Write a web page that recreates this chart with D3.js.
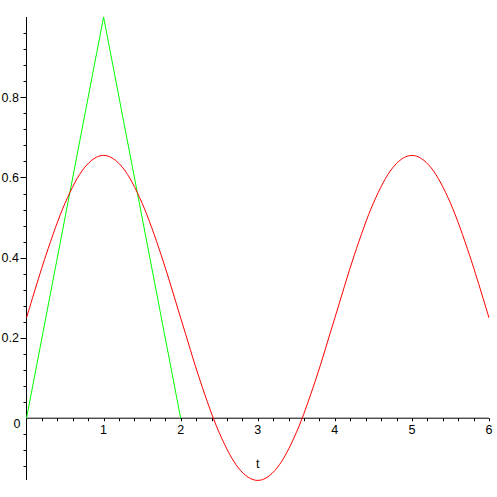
<!DOCTYPE html>
<html><head><meta charset="utf-8">
<script src="https://cdn.jsdelivr.net/npm/d3@7"></script>
<style>body{margin:0;background:#fff}text{font-family:"Liberation Sans",Arial,sans-serif;font-size:12.5px;fill:#000}</style>
</head><body><svg id="c" width="497" height="497"></svg>
<script>
const greenT = [0, 1, 2];
const greenV = [0, 1, 0];
const redT = [0,0.25,0.5,0.75,1,1.25,1.5,1.75,2,2.25,2.5,2.75,3,3.25,3.5,3.75,4,4.25,4.5,4.75,5,5.25,5.5,5.75,6];
const redV = [0.25,0.405,0.536,0.624,0.655,0.624,0.536,0.405,0.25,0.095,-0.036,-0.124,-0.155,-0.124,-0.036,0.095,0.25,0.405,0.536,0.624,0.655,0.624,0.536,0.405,0.25];
const xTickLabels = ["1","2","3","4","5","6"];
const yTickLabels = ["0.2","0.4","0.6","0.8"];

const svg = d3.select("#c");
const x = d3.scaleLinear().domain([0,6]).range([26.5,489]);
const y = d3.scaleLinear().domain([-0.154,1.0]).range([480,17]);

svg.append("line").attr("x1",x(0)).attr("x2",x(6)).attr("y1",y(0)).attr("y2",y(0)).attr("stroke","#000");
svg.append("line").attr("x1",x(0)).attr("x2",x(0)).attr("y1",y(1.0)).attr("y2",y(-0.154)).attr("stroke","#000");

const xt = d3.range(1,31).map(i=>i*0.2);
svg.selectAll(".xt").data(xt).enter().append("line")
  .attr("x1",d=>Math.round(x(d))+0.5).attr("x2",d=>Math.round(x(d))+0.5)
  .attr("y1",y(0)).attr("y2",y(0)+3).attr("stroke","#000");
const yt = d3.range(-3,25).filter(i=>i!==0).map(i=>i*0.04);
svg.selectAll(".yt").data(yt).enter().append("line")
  .attr("x1",(d,i)=>x(0)-((Math.round(d/0.04)%5===0)?6:3)).attr("x2",x(0))
  .attr("y1",d=>Math.round(y(d))+0.5).attr("y2",d=>Math.round(y(d))+0.5).attr("stroke","#000");

svg.selectAll(".xl").data(xTickLabels).enter().append("text")
  .attr("x",d=>x(+d)).attr("y",y(0)+16).attr("text-anchor","middle").text(d=>d);
svg.selectAll(".yl").data(yTickLabels).enter().append("text")
  .attr("x",19).attr("y",d=>y(+d)+4.5).attr("text-anchor","end").text(d=>d);
svg.append("text").attr("x",17).attr("y",y(0)+10).attr("text-anchor","middle").text("0");
svg.append("text").attr("x",x(3)).attr("y",468).attr("text-anchor","middle").text("t");

const gline = d3.line().x((d,i)=>x(greenT[i])).y(d=>y(d));
svg.append("path").attr("d",gline(greenV)).attr("fill","none").attr("stroke","#00ff00").attr("stroke-width",1);
const rline = d3.line().x((d,i)=>x(redT[i])).y(d=>y(d)).curve(d3.curveCardinal.tension(0));
svg.append("path").attr("d",rline(redV)).attr("fill","none").attr("stroke","#ff0000").attr("stroke-width",1);
</script></body></html>
